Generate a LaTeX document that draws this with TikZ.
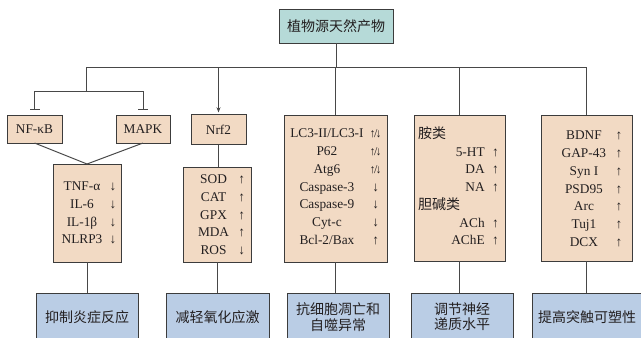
\documentclass[tikz,border=0pt]{standalone}
\usepackage{fontspec}
\setmainfont{Liberation Serif}
\newfontfamily\cjk{Noto Sans CJK SC}
\usepackage{array}
\usetikzlibrary{arrows.meta}

\definecolor{rootfill}{RGB}{182,218,216}
\definecolor{peach}{RGB}{242,218,196}
\definecolor{outcome}{RGB}{186,205,229}
\definecolor{edge}{RGB}{60,60,60}
\definecolor{wire}{RGB}{72,72,72}
\definecolor{ink}{RGB}{35,31,32}

% change markers
\newcommand\upa{↑}
\newcommand\dna{↓}
\newcommand\updn{{\small↑\kern-1.2pt/\kern-1.2pt↓}}

\begin{document}
\begin{tikzpicture}[x=0.75pt,y=-0.75pt,
  every node/.style={inner sep=0pt,outer sep=0pt,text=ink,
    font=\fontsize{10}{12}\selectfont},
  sz/.style 2 args={minimum width=#1*0.75pt,minimum height=#2*0.75pt},
  rootbox/.style={draw=edge,line width=0.75pt,fill=rootfill,
    font=\cjk\fontsize{10.5}{12}\selectfont},
  pathbox/.style={draw=edge,line width=0.75pt,fill=peach},
  resultbox/.style={draw=edge,line width=0.75pt,fill=outcome,align=center,
    font=\cjk\fontsize{10.5}{11.5}\selectfont},
  listtext/.style={font=\fontsize{10}{12}\selectfont\renewcommand\arraystretch{1.11}},
  wire/.style={draw=wire,line width=0.75pt},
  tee/.style={-{Bar[width=7.5pt,line width=1.2pt]},shorten >=3.5pt},
  push/.style={-{Stealth[length=4pt,width=3pt]},shorten >=1.5pt}]
\useasboundingbox (0,0) rectangle (641,337);
\clip (0,0) rectangle (641,337);

% source
\node[rootbox,sz={114}{34}] (root) at (336,26) {植物源天然产物};

% signalling nodes
\node[pathbox,sz={55}{28}] (nfkb) at (34.5,129) {NF-κB};
\node[pathbox,sz={54}{28}] (mapk) at (143,129) {MAPK};
\node[pathbox,sz={55}{30}] (nrf2) at (218.5,129.5) {Nrf2};

% marker panels
\node[pathbox,sz={68}{98}] (cyto) at (87,213) {};
\node[listtext] (cytol) at (89,213.7) {\begin{tabular}{@{}c@{\hspace{5.5pt}}c@{}}
TNF-α & \dna\\ IL-6 & \dna\\ IL-1β & \dna\\ NLRP3 & \dna
\end{tabular}};

\node[pathbox,sz={68}{95}] (oxi) at (217,214.5) {};
\node[listtext] (oxil) at (221.5,215.5) {\begin{tabular}{@{}c@{\hspace{6.9pt}}c@{}}
SOD & \upa\\ CAT & \upa\\ GPX & \upa\\ MDA & \upa\\ ROS & \dna
\end{tabular}};

\node[pathbox,sz={103}{147}] (auto) at (335.5,188.5) {};
\node[listtext] (autol) at (336,187.5) {\begin{tabular}{@{}c@{\hspace{4.5pt}}c@{}}
LC3-II/LC3-I & \updn\\ P62 & \updn\\ Atg6 & \updn\\ Caspase-3 & \dna\\
Caspase-9 & \dna\\ Cyt-c & \dna\\ Bcl-2/Bax & \upa
\end{tabular}};

\node[pathbox,sz={91}{146}] (neuro) at (459.5,188) {};
\node[listtext,anchor=west] (neurol) at (418,188) {\begin{tabular}{@{}>{\raggedleft\arraybackslash}p{50pt}@{\hspace{5.6pt}}c@{}}
\multicolumn{2}{@{}l@{}}{\cjk\fontsize{10.5}{12}\selectfont 胺类}\\
5-HT & \upa\\ DA & \upa\\ NA & \upa\\
\multicolumn{2}{@{}l@{}}{\cjk\fontsize{10.5}{12}\selectfont 胆碱类}\\
ACh & \upa\\ AChE & \upa
\end{tabular}};

\node[pathbox,sz={91}{146}] (syn) at (586.5,188) {};
\node[listtext] (synl) at (592,189.5) {\begin{tabular}{@{}c@{\hspace{7.1pt}}c@{}}
BDNF & \upa\\ GAP-43 & \upa\\ Syn I & \upa\\ PSD95 & \upa\\
Arc & \upa\\ Tuj1 & \upa\\ DCX & \upa
\end{tabular}};

% outcomes
\node[resultbox,sz={102}{48}] (inflam) at (87,317) {抑制炎症反应};
\node[resultbox,sz={103}{48}] (stress) at (217.5,317) {减轻氧化应激};
\node[resultbox,sz={102}{48}] (apop) at (338,317) {抗细胞凋亡和\\自噬异常};
\node[resultbox,sz={102}{48}] (trans) at (462,317) {调节神经\\递质水平};
\node[resultbox,sz={110}{48}] (plast) at (587,317) {提高突触可塑性};

% distribution bar
\coordinate (hub) at (root.south |- 0,67);
\coordinate (barL) at (86,67);
\coordinate (barR) at (syn.north |- hub);
\coordinate (split) at (86,91);
\draw[wire] (root.south) -- (hub);
\draw[wire] (barL) -- (barR);
\draw[wire] (barL) -- (split);
\draw[wire,tee] (split) -| (nfkb.north);
\draw[wire,tee] (split) -| (mapk.north);
\draw[wire,push] (nrf2.north |- hub) -- (nrf2.north);
\draw[wire] (auto.north |- hub) -- (auto.north);
\draw[wire] (neuro.north |- hub) -- (neuro.north);
\draw[wire] (syn.north |- hub) -- (syn.north);

% downstream links
\draw[wire] (nfkb.south) -- (cyto.north);
\draw[wire] (mapk.south) -- (cyto.north);
\draw[wire] (nrf2.south) -- (nrf2.south |- oxi.north);
\draw[wire] (cyto.south) -- (inflam.north);
\draw[wire] (oxi.south) -- (oxi.south |- stress.north);
\draw[wire] (auto.south) -- (auto.south |- apop.north);
\draw[wire] (neuro.south) -- (neuro.south |- trans.north);
\draw[wire] (syn.south) -- (syn.south |- plast.north);
\end{tikzpicture}
\end{document}
